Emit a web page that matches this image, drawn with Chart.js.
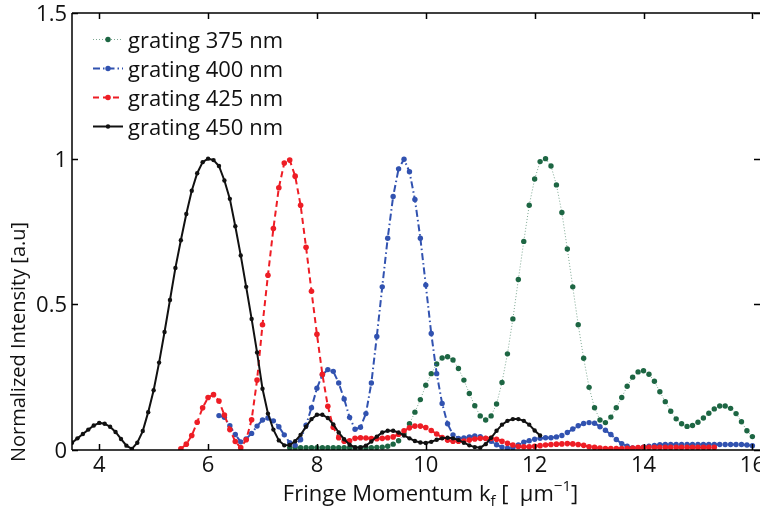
<!DOCTYPE html>
<html>
<head>
<meta charset="utf-8">
<script src="https://cdn.jsdelivr.net/npm/chart.js@4.4.1/dist/chart.umd.min.js"></script>
<style>
  html, body { margin: 0; padding: 0; background: #fff; }
  #wrap { width: 760px; height: 512px; }
</style>
</head>
<body>
<div id="wrap"><canvas id="fringeChart" width="760" height="512"></canvas></div>
<script>
// fringe momentum samples (um^-1)
const kf = [
  3.5, 3.6, 3.7, 3.8, 3.9,
  4.0, 4.1, 4.2, 4.3, 4.4, 4.5, 4.6, 4.7, 4.8, 4.9,
  5.0, 5.1, 5.2, 5.3, 5.4, 5.5, 5.6, 5.7, 5.8, 5.9,
  6.0, 6.1, 6.2, 6.3, 6.4, 6.5, 6.6, 6.7, 6.8, 6.9,
  7.0, 7.1, 7.2, 7.3, 7.4, 7.5, 7.6, 7.7, 7.8, 7.9,
  8.0, 8.1, 8.2, 8.3, 8.4, 8.5, 8.6, 8.7, 8.8, 8.9,
  9.0, 9.1, 9.2, 9.3, 9.4, 9.5, 9.6, 9.7, 9.8, 9.9,
  10.0, 10.1, 10.2, 10.3, 10.4, 10.5, 10.6, 10.7, 10.8, 10.9,
  11.0, 11.1, 11.2, 11.3, 11.4, 11.5, 11.6, 11.7, 11.8, 11.9,
  12.0, 12.1, 12.2, 12.3, 12.4, 12.5, 12.6, 12.7, 12.8, 12.9,
  13.0, 13.1, 13.2, 13.3, 13.4, 13.5, 13.6, 13.7, 13.8, 13.9,
  14.0, 14.1, 14.2, 14.3, 14.4, 14.5, 14.6, 14.7, 14.8, 14.9,
  15.0, 15.1, 15.2, 15.3, 15.4, 15.5, 15.6, 15.7, 15.8, 15.9,
  16.0
];

const grating375 = [
  null, null, null, null, null,
  null, null, null, null, null, null, null, null, null, null,
  null, null, null, null, null, null, null, null, null, null,
  null, null, null, null, null, null, null, null, null, null,
  null, null, null, null, null, 0.008, 0.008, 0.008, 0.008, 0.008,
  0.008, 0.008, 0.008, 0.008, 0.008, 0.008, 0.008, 0.008, 0.008, 0.008,
  0.008, 0.009, 0.01, 0.013, 0.02, 0.032, 0.055, 0.09, 0.13, 0.173,
  0.222, 0.262, 0.295, 0.316, 0.32, 0.309, 0.28, 0.24, 0.194, 0.152,
  0.117, 0.103, 0.117, 0.158, 0.232, 0.33, 0.45, 0.585, 0.716, 0.84,
  0.93, 0.99, 1.0, 0.975, 0.91, 0.815, 0.69, 0.56, 0.43, 0.315,
  0.215, 0.145, 0.103, 0.094, 0.113, 0.145, 0.18, 0.219, 0.25, 0.268,
  0.272, 0.26, 0.236, 0.2, 0.166, 0.133, 0.107, 0.09, 0.081, 0.084,
  0.095, 0.11, 0.126, 0.141, 0.151, 0.151, 0.143, 0.125, 0.097, 0.066,
  0.046
];

const grating400 = [
  null, null, null, null, null,
  null, null, null, null, null, null, null, null, null, null,
  null, null, null, null, null, null, null, null, null, null,
  null, null, 0.118, 0.112, 0.083, 0.053, 0.028, 0.038, 0.057, 0.082,
  0.103, 0.11, 0.1, 0.08, 0.052, 0.025, 0.016, 0.035, 0.085, 0.145,
  0.212, 0.258, 0.276, 0.27, 0.23, 0.175, 0.112, 0.071, 0.078, 0.125,
  0.23, 0.39, 0.56, 0.727, 0.87, 0.965, 0.998, 0.955, 0.86, 0.727,
  0.566, 0.4, 0.262, 0.16, 0.09, 0.052, 0.04, 0.041, 0.045, 0.048,
  0.046, 0.04, 0.03, 0.018, 0.01, 0.006, 0.008, 0.017, 0.027, 0.032,
  0.037, 0.04, 0.042, 0.042, 0.045, 0.05, 0.06, 0.072, 0.083, 0.091,
  0.094, 0.092, 0.08, 0.068, 0.053, 0.036, 0.022, 0.013, 0.007, 0.006,
  0.01, 0.013, 0.016, 0.018, 0.019, 0.019, 0.019, 0.019, 0.019, 0.019,
  0.019, 0.019, 0.019, 0.019, 0.019, 0.019, 0.019, 0.019, 0.019, 0.017,
  0.015
];

const grating425 = [
  null, null, null, null, null,
  null, null, null, null, null, null, null, null, null, null,
  null, null, null, null, null, 0.004, 0.02, 0.05, 0.095, 0.145,
  0.18, 0.19, 0.168, 0.12, 0.07, 0.029, 0.008, 0.035, 0.104, 0.24,
  0.43, 0.6, 0.76, 0.9, 0.985, 0.995, 0.94, 0.84, 0.696, 0.545,
  0.397, 0.26, 0.15, 0.078, 0.042, 0.03, 0.032, 0.04, 0.042, 0.041,
  0.039, 0.039, 0.04, 0.042, 0.045, 0.054, 0.066, 0.076, 0.082, 0.082,
  0.077, 0.067, 0.055, 0.043, 0.034, 0.03, 0.03, 0.031, 0.034, 0.038,
  0.04, 0.04, 0.04, 0.037, 0.03, 0.023, 0.017, 0.012, 0.011, 0.011,
  0.013, 0.015, 0.017, 0.019, 0.02, 0.021, 0.022, 0.021, 0.019, 0.016,
  0.011, 0.009, 0.007, 0.005, 0.005, 0.005, 0.005, 0.006, 0.007, 0.008,
  0.009, 0.009, 0.009, 0.009, 0.009, 0.009, 0.009, 0.009, 0.009, 0.009,
  0.009, 0.009, 0.009, 0.009, null, null, null, null, null, null,
  null
];

const grating450 = [
  0.025, 0.04, 0.055, 0.07, 0.084,
  0.093, 0.09, 0.08, 0.062, 0.038, 0.015, 0.004, 0.025, 0.065, 0.13,
  0.205, 0.3, 0.405, 0.515, 0.625, 0.72, 0.81, 0.89, 0.95, 0.988,
  1.0, 0.995, 0.975, 0.925, 0.862, 0.768, 0.668, 0.56, 0.45, 0.335,
  0.21, 0.125, 0.07, 0.033, 0.016, 0.017, 0.03, 0.052, 0.08, 0.106,
  0.121, 0.121, 0.11, 0.088, 0.06, 0.037, 0.018, 0.009, 0.009, 0.015,
  0.029, 0.046, 0.06, 0.066, 0.066, 0.06, 0.05, 0.04, 0.031, 0.026,
  0.024, 0.028, 0.035, 0.04, 0.042, 0.04, 0.034, 0.025, 0.016, 0.01,
  0.008, 0.02, 0.042, 0.066, 0.087, 0.1, 0.106, 0.106, 0.1, 0.087,
  0.067, 0.05, null, null, null, null, null, null, null, null,
  null, null, null, null, null, null, null, null, null, null,
  null, null, null, null, null, null, null, null, null, null,
  null, null, null, null, null, null, null, null, null, null,
  null
];

const seriesNames = ['grating 375 nm', 'grating 400 nm', 'grating 425 nm', 'grating 450 nm'];
const xTicks = [4, 6, 8, 10, 12, 14, 16];
const yTicks = [0, 0.5, 1, 1.5];

// look of each series (line colour, dash, marker)
const looks = [
  { line: 'rgba(40,110,75,0.6)', dot: '#1d6643', width: 1, dash: [1, 2], r: 2.7 },
  { line: '#3152b0', dot: '#3152b0', width: 2, dash: [7, 3, 1.5, 3], r: 2.7 },
  { line: '#ee1d25', dot: '#ee1d25', width: 2, dash: [6, 4], r: 2.8 },
  { line: '#111111', dot: '#111111', width: 2, dash: [], r: 2.2 }
];

const FONT = '"Open Sans", "DejaVu Sans", sans-serif';
const TXT = '#111111';

function toPoints(values) {
  return kf.map((x, i) => ({ x: x, y: values[i] })).filter(p => p.y !== null);
}

const allSeries = [grating375, grating400, grating425, grating450];

const datasets = allSeries.map((vals, i) => ({
  label: seriesNames[i],
  data: toPoints(vals),
  borderColor: looks[i].line,
  borderWidth: looks[i].width,
  borderDash: looks[i].dash,
  pointRadius: looks[i].r,
  pointBorderWidth: 0,
  pointBackgroundColor: looks[i].dot,
  tension: 0,
  order: 4 - i
}));

// frame, inward ticks, tick labels, axis titles and legend
const decor = {
  id: 'decor',
  afterDraw(chart) {
    const ctx = chart.ctx;
    const a = chart.chartArea;
    const xs = chart.scales.x, ys = chart.scales.y;
    ctx.save();
    ctx.strokeStyle = '#000';
    ctx.lineWidth = 1.5;
    ctx.setLineDash([]);
    ctx.beginPath();
    ctx.moveTo(a.left, a.top); ctx.lineTo(a.right, a.top);
    ctx.moveTo(a.left, a.bottom); ctx.lineTo(a.right, a.bottom);
    ctx.moveTo(a.left, a.top); ctx.lineTo(a.left, a.bottom);
    xTicks.forEach(v => {
      const px = Math.round(xs.getPixelForValue(v)) + 0.5;
      ctx.moveTo(px, a.bottom); ctx.lineTo(px, a.bottom - 6);
      ctx.moveTo(px, a.top); ctx.lineTo(px, a.top + 6);
    });
    yTicks.forEach(v => {
      const py = Math.round(ys.getPixelForValue(v)) + 0.5;
      ctx.moveTo(a.left, py); ctx.lineTo(a.left + 6, py);
      ctx.moveTo(a.right, py); ctx.lineTo(a.right - 6, py);
    });
    ctx.stroke();

    // tick labels
    ctx.fillStyle = TXT;
    ctx.font = '22px ' + FONT;
    ctx.textBaseline = 'alphabetic';
    ctx.textAlign = 'center';
    xTicks.forEach(v => {
      ctx.fillText(String(v), xs.getPixelForValue(v), 472);
    });
    ctx.textAlign = 'right';
    yTicks.forEach(v => {
      ctx.fillText(String(v), a.left - 5, ys.getPixelForValue(v) + 8);
    });

    // legend
    ctx.textAlign = 'left';
    seriesNames.forEach((name, i) => {
      const y = 39.5 + i * 29;
      const lk = looks[i];
      ctx.strokeStyle = lk.line;
      ctx.lineWidth = lk.width;
      ctx.setLineDash(lk.dash);
      ctx.beginPath();
      ctx.moveTo(93, y); ctx.lineTo(123, y);
      ctx.stroke();
      ctx.setLineDash([]);
      ctx.fillStyle = lk.dot;
      ctx.beginPath();
      ctx.arc(108, y, lk.r, 0, Math.PI * 2);
      ctx.fill();
      ctx.fillStyle = TXT;
      ctx.fillText(name, 128, y + 8);
    });

    // x title with subscript / superscript
    const parts = [
      { t: 'Fringe Momentum k', size: 22, dy: 0 },
      { t: 'f', size: 15, dy: 5 },
      { t: ' [  \u03bcm', size: 22, dy: 0 },
      { t: '\u22121', size: 15, dy: -10 },
      { t: ']', size: 22, dy: 0 }
    ];
    let total = 0;
    parts.forEach(p => { ctx.font = p.size + 'px ' + FONT; p.w = ctx.measureText(p.t).width; total += p.w; });
    let x = 430.5 - total / 2;
    parts.forEach(p => {
      ctx.font = p.size + 'px ' + FONT;
      ctx.fillText(p.t, x, 501 + p.dy);
      x += p.w;
    });

    // y title
    ctx.font = '20px ' + FONT;
    ctx.translate(25, 342);
    ctx.rotate(-Math.PI / 2);
    ctx.textAlign = 'center';
    ctx.fillText('Normalized Intensity [a.u]', 0, 0);
    ctx.restore();
  }
};

new Chart(document.getElementById('fringeChart'), {
  type: 'line',
  data: { datasets: datasets },
  options: {
    responsive: false,
    animation: false,
    devicePixelRatio: 1,
    layout: { autoPadding: false, padding: { top: 13, right: 0, left: 0, bottom: 0 } },
    plugins: { legend: { display: false }, tooltip: { enabled: false } },
    scales: {
      x: {
        type: 'linear',
        min: 3.5,
        max: 16.14,
        grid: { display: false },
        border: { display: false },
        ticks: { display: false },
        afterBuildTicks: s => { s.ticks = xTicks.map(v => ({ value: v })); },
        afterFit: s => { s.height = 62; s.paddingLeft = 0; s.paddingRight = 0; }
      },
      y: {
        min: 0,
        max: 1.5,
        grid: { display: false },
        border: { display: false },
        ticks: { display: false },
        afterBuildTicks: s => { s.ticks = yTicks.map(v => ({ value: v })); },
        afterFit: s => { s.width = 72; s.paddingTop = 0; s.paddingBottom = 0; }
      }
    }
  },
  plugins: [decor]
});
</script>
</body>
</html>
